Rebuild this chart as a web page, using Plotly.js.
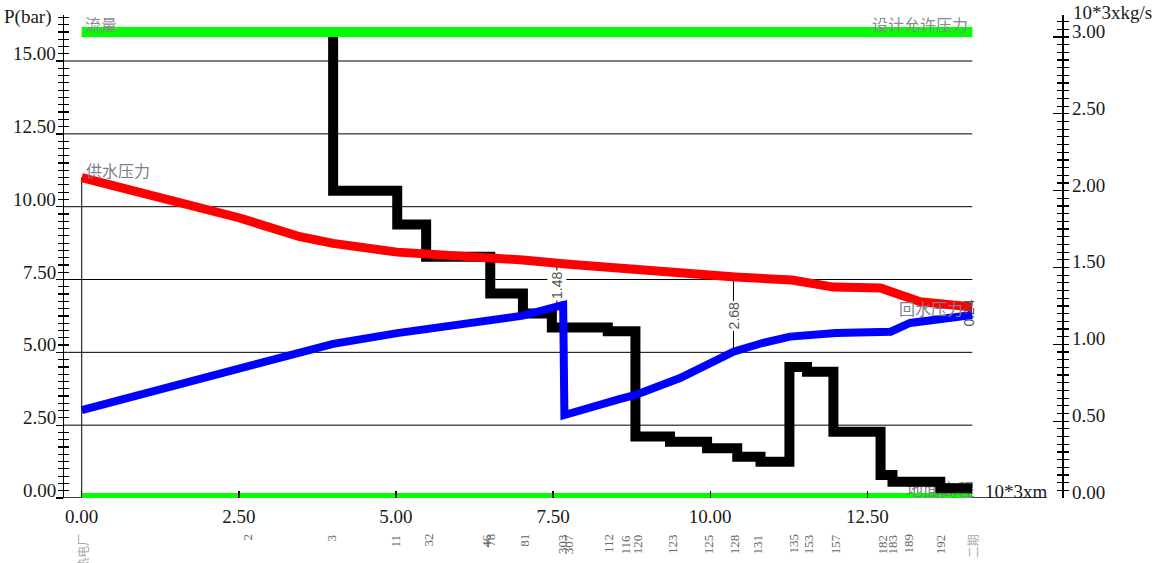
<!DOCTYPE html>
<html><head><meta charset="utf-8">
<script src="https://cdn.plot.ly/plotly-3.0.1.min.js"></script>
<style>html,body{margin:0;padding:0;background:#fff;} #chart{width:1173px;height:563px;}</style>
</head><body><div id="chart"></div>
<script>
// ---- data ----
const xTickVals = [0, 2.5, 5, 7.5, 10, 12.5];
const leftTickVals = [0, 2.5, 5, 7.5, 10, 12.5, 15];
const rightTickVals = [0, 0.5, 1, 1.5, 2, 2.5, 3];

const supplyX = [0, 2.5, 3.47, 4.0, 5.02, 5.86, 6.5, 7.02, 7.7, 8.8, 10.0, 10.4, 11.3, 11.96, 12.71, 12.9, 13.03, 13.34, 14.17];
const supplyP = [11.0, 9.62, 8.97, 8.74, 8.44, 8.34, 8.27, 8.17, 8.03, 7.83, 7.66, 7.59, 7.48, 7.24, 7.21, 7.10, 6.97, 6.74, 6.56];

const returnX = [0, 4.0, 5.02, 6.5, 7.02, 7.66, 7.68, 8.57, 8.81, 9.52, 9.95, 10.37, 10.83, 11.27, 12.0, 12.87, 13.18, 13.98, 14.17];
const returnP = [3.02, 5.29, 5.66, 6.11, 6.26, 6.63, 2.85, 3.40, 3.54, 4.12, 4.57, 5.02, 5.32, 5.54, 5.66, 5.71, 6.01, 6.22, 6.28];

const flowX = [4.0, 4.0, 5.02, 5.48, 6.5, 7.02, 7.48, 8.37, 8.81, 9.36, 9.95, 10.43, 10.8, 11.26, 11.54, 11.96, 12.71, 12.9, 13.66, 14.17];
const flowQ = [3.0, 2.00, 1.78, 1.57, 1.33, 1.20, 1.11, 1.085, 0.40, 0.366, 0.323, 0.268, 0.236, 0.853, 0.821, 0.431, 0.149, 0.106, 0.063, 0.063];

const lineX = [0, 14.17];
const designLimit = [16, 16];
const groundLevel = [0, 0];

const stationX = [0, 2.63, 3.98, 5.0, 5.51, 6.43, 6.5, 7.04, 7.64, 7.74, 8.38, 8.65, 8.84, 9.39, 9.97, 10.38, 10.75, 11.31, 11.56, 11.99, 12.74, 12.9, 13.14, 13.66, 14.17];
const stationNames = ['热电厂', '2', '3', '11', '32', '46', '78', '81', '303', '307', '112', '116', '120', '123', '125', '128', '131', '135', '153', '157', '182', '183', '189', '192', '二期'];

const diffX = [7.56, 10.37, 14.11];
const diffTop = [8.05, 7.60, 6.57];
const diffBottom = [6.56, 5.02, 6.28];
const diffLabels = ['1.48', '2.68', '0.24'];
const diffLabelY = [7.31, 6.25, 6.35];

const gridLevels = [2.5, 5, 7.5, 10, 12.5, 15];

// ---- build ----
const xMin = -0.282, xMax = 15.597;
const yMax = 16.58, y2Max = 3.143;
const serif = 'Liberation Serif';
const cjk = 'Noto Sans CJK SC';
const ink = '#1a1a1a';

const dX = [], dY = [];
diffX.forEach((x, i) => { dX.push(x, x, null); dY.push(diffTop[i], diffBottom[i], null); });

const traces = [
  {x: lineX, y: designLimit, mode: 'lines', line: {color: '#00ff00', width: 10}, xaxis: 'x', yaxis: 'y', hoverinfo: 'skip'},
  {x: lineX, y: groundLevel, mode: 'lines', line: {color: '#00ff00', width: 10}, xaxis: 'x', yaxis: 'y', hoverinfo: 'skip'},
  {x: [lineX[1] + 0.03], y: [0.22], mode: 'text', text: ['地面高程'], textposition: 'middle left',
   textfont: {family: cjk, size: 17, color: '#808080'}, xaxis: 'x', yaxis: 'y', hoverinfo: 'skip'},
  {x: flowX, y: flowQ, mode: 'lines', line: {color: '#000', width: 10, shape: 'hv'}, xaxis: 'x', yaxis: 'y2', hoverinfo: 'skip'},
  {x: dX, y: dY, mode: 'lines', line: {color: '#000', width: 1}, xaxis: 'x', yaxis: 'y3', hoverinfo: 'skip'},
  {x: supplyX, y: supplyP, mode: 'lines', line: {color: '#ff0000', width: 9}, xaxis: 'x', yaxis: 'y3', hoverinfo: 'skip'},
  {x: returnX, y: returnP, mode: 'lines', line: {color: '#0000ff', width: 8}, xaxis: 'x', yaxis: 'y3', hoverinfo: 'skip'},
  {x: [], y: [], mode: 'lines', xaxis: 'x', yaxis: 'y4', hoverinfo: 'skip'}
];

const shapes = gridLevels.map(v => ({type: 'line', xref: 'x', yref: 'y', x0: xMin, x1: lineX[1], y0: v, y1: v,
  line: {color: '#000', width: 1}, layer: 'below'}));
shapes.push({type: 'line', xref: 'x', yref: 'y', x0: 0, x1: 0, y0: 0, y1: supplyP[0], line: {color: '#000', width: 1}, layer: 'below'});
shapes.push({type: 'line', xref: 'paper', yref: 'y', x0: 0, x1: 0.983, y0: 0, y1: 0, line: {color: '#000', width: 1.5}, layer: 'below'});

const grayTxt = '#8a8a8a';
const tickFont = {family: serif, size: 19, color: ink};
const annotations = [
  {text: 'P(bar)', xref: 'paper', yref: 'paper', x: -64/998, y: 1.0, xanchor: 'left', yanchor: 'middle', xshift: 2, yshift: -2, showarrow: false, font: tickFont},
  {text: '10*3xkg/s', xref: 'paper', yref: 'paper', x: 1.0, y: 1.0, xanchor: 'left', yanchor: 'middle', xshift: 10, yshift: 3, borderpad: 0, showarrow: false, font: tickFont},
  {text: '10*3xm', xref: 'x', yref: 'y', x: 14.34, y: 0.24, xanchor: 'left', yanchor: 'middle', showarrow: false, font: tickFont},
  {text: '流量', xref: 'x', yref: 'y', x: 0.02, y: 16.27, xanchor: 'left', yanchor: 'middle', showarrow: false, font: {family: cjk, size: 16, color: grayTxt}},
  {text: '设计允许压力', xref: 'x', yref: 'y', x: 14.14, y: 16.27, xanchor: 'right', yanchor: 'middle', showarrow: false, font: {family: cjk, size: 16, color: grayTxt}},
  {text: '供水压力', xref: 'x', yref: 'y', x: 0.03, y: 11.26, xanchor: 'left', yanchor: 'middle', showarrow: false, font: {family: cjk, size: 16, color: '#7a7f90'}},
  {text: '回水压力', xref: 'x', yref: 'y', x: 14.06, y: 6.52, xanchor: 'right', yanchor: 'middle', showarrow: false, font: {family: cjk, size: 16, color: '#7a7f90'}}
];
leftTickVals.forEach(v => annotations.push({text: v.toFixed(2), xref: 'paper', yref: 'y', x: 0, y: v, xanchor: 'right', yanchor: 'middle',
  xshift: -7, yshift: 7.5, borderpad: 0, showarrow: false, font: tickFont}));
rightTickVals.forEach(v => annotations.push({text: v.toFixed(2), xref: 'paper', yref: 'y2', x: 1, y: v, xanchor: 'left', yanchor: 'middle',
  xshift: 9, yshift: 5.5, borderpad: 0, showarrow: false, font: tickFont}));
diffX.forEach((x, i) => annotations.push({text: diffLabels[i], xref: 'x', yref: 'y', x: x, y: diffLabelY[i], textangle: -90,
  xanchor: 'center', yanchor: 'middle', showarrow: false, bgcolor: i < 2 ? '#ffffff' : 'rgba(0,0,0,0)', borderpad: 1,
  font: {family: 'Liberation Sans', size: 14, color: '#555'}}));
stationX.forEach((x, i) => {
  const isText = /[^0-9]/.test(stationNames[i]);
  annotations.push({text: stationNames[i], xref: 'x', yref: 'paper', x: x, y: -0.0725, textangle: -90,
    xanchor: 'center', yanchor: 'top', showarrow: false, borderpad: 0,
    font: {family: isText ? cjk : serif, size: isText ? 12 : 13, color: isText ? '#a8a8a8' : '#666'}});
});

const layout = {
  width: 1173, height: 563,
  margin: {l: 64, r: 111, t: 15, b: 65, pad: 0},
  paper_bgcolor: '#fff', plot_bgcolor: '#fff', showlegend: false,
  font: tickFont,
  xaxis: {range: [xMin, xMax], tickmode: 'array', tickvals: xTickVals, ticktext: xTickVals.map(v => v.toFixed(2)),
    ticks: 'inside', ticklen: 7, tickwidth: 1.3, tickcolor: '#000', showline: false, showgrid: false, zeroline: false,
    ticklabelstandoff: 5, tickfont: tickFont, fixedrange: true},
  yaxis: {range: [0, yMax], tickmode: 'linear', tick0: 0, dtick: 2.5, ticks: 'outside', ticklen: 7,
    tickwidth: 1.3, tickcolor: '#000', showline: true, linecolor: '#000', linewidth: 1.5, showgrid: false, zeroline: false,
    showticklabels: false, fixedrange: true,
    minor: {tick0: 0, dtick: 0.25, ticks: 'outside', ticklen: 5, tickwidth: 1.2, tickcolor: '#000', showgrid: false}},
  yaxis3: {overlaying: 'y', side: 'left', anchor: 'x', range: [0, yMax], tickmode: 'linear', tick0: 0, dtick: 2.5,
    ticks: '', showticklabels: false, showline: false, showgrid: false, zeroline: false, fixedrange: true,
    minor: {tick0: 0, dtick: 0.25, ticks: 'inside', ticklen: 5, tickwidth: 1.2, tickcolor: '#000', showgrid: false}},
  yaxis2: {overlaying: 'y', side: 'right', anchor: 'x', range: [0, y2Max], tickmode: 'linear', tick0: 0, dtick: 0.5,
    ticks: 'inside', ticklen: 9, tickwidth: 1.3, tickcolor: '#000', showline: true, linecolor: '#000',
    linewidth: 1.5, showgrid: false, zeroline: false, showticklabels: false, fixedrange: true,
    minor: {tick0: 0, dtick: 0.05, ticks: 'outside', ticklen: 5, tickwidth: 1.2, tickcolor: '#000', showgrid: false}},
  yaxis4: {overlaying: 'y', side: 'right', anchor: 'x', range: [0, y2Max], tickmode: 'linear', tick0: 0, dtick: 0.5,
    ticks: '', showticklabels: false, showline: false, showgrid: false, zeroline: false, fixedrange: true,
    minor: {tick0: 0, dtick: 0.05, ticks: 'inside', ticklen: 5, tickwidth: 1.2, tickcolor: '#000', showgrid: false}},
  shapes: shapes,
  annotations: annotations
};

Plotly.newPlot('chart', traces, layout, {staticPlot: true, displayModeBar: false});
</script></body></html>
